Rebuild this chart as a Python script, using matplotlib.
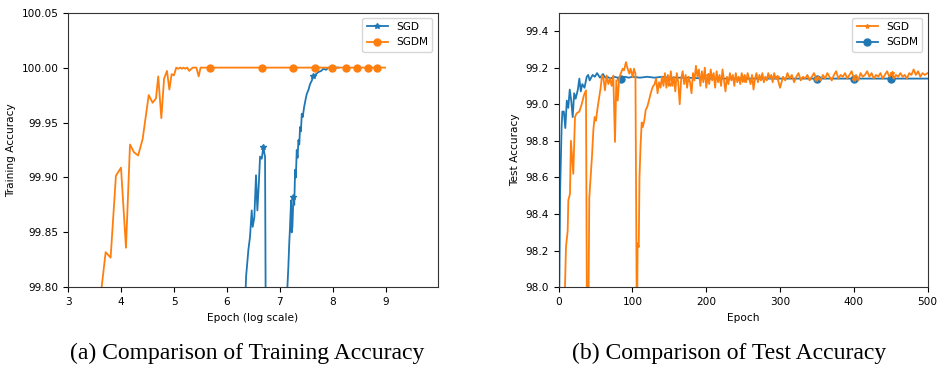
import matplotlib
matplotlib.use("Agg")
import matplotlib.pyplot as plt

# ---- (a) training accuracy, x is log(epoch) ----
sgd_train_x = [6.353, 6.36, 6.403, 6.434, 6.466, 6.485, 6.516, 6.547, 6.573, 6.598,
               6.624, 6.655, 6.687, 6.705, 6.718, 6.737,
               7.14, 7.159, 7.175, 7.19, 7.21, 7.222, 7.235, 7.254, 7.27, 7.286,
               7.30, 7.317, 7.333, 7.349, 7.365, 7.38, 7.396, 7.412, 7.43, 7.456,
               7.48, 7.506, 7.54, 7.569, 7.60, 7.632, 7.68, 7.727, 7.78, 7.821,
               7.87, 7.916, 8.0, 8.105]
sgd_train_y = [99.80, 99.81, 99.834, 99.846, 99.870, 99.855, 99.864, 99.902, 99.870, 99.892,
               99.919, 99.917, 99.928, 99.922, 99.919, 99.70,
               99.80, 99.819, 99.840, 99.855, 99.879, 99.850, 99.855, 99.882, 99.875, 99.907,
               99.900, 99.925, 99.918, 99.934, 99.930, 99.946, 99.942, 99.958, 99.955, 99.964,
               99.970, 99.976, 99.980, 99.985, 99.988, 99.992, 99.994, 99.996, 99.997, 99.999,
               99.998, 100.0, 100.0, 100.0]
sgd_train_mark_x = [6.687, 7.254, 7.632]

sgdm_train_x = [3.55, 3.63, 3.706, 3.80, 3.90, 3.996, 4.09, 4.166, 4.24, 4.32,
                4.405, 4.52, 4.594, 4.657, 4.70, 4.758, 4.81, 4.865, 4.91, 4.953,
                4.997, 5.04, 5.078, 5.115, 5.147, 5.178, 5.21, 5.248, 5.286, 5.35,
                5.42, 5.464, 5.50, 5.678, 6.661, 7.253, 7.662, 7.984, 8.249, 8.457,
                8.658, 8.829, 8.986]
sgdm_train_y = [99.77, 99.80, 99.832, 99.827, 99.9015, 99.909, 99.836, 99.930, 99.923, 99.920,
                99.935, 99.975, 99.968, 99.972, 99.992, 99.954, 99.990, 99.997, 99.980, 99.994,
                99.993, 100.0, 99.999, 100.0, 99.999, 100.0, 99.999, 100.0, 99.997, 100.0,
                100.0, 99.992, 100.0, 100.0, 100.0, 100.0, 100.0, 100.0, 100.0, 100.0,
                100.0, 100.0, 100.0]
sgdm_train_mark_x = [5.678, 6.661, 7.253, 7.662, 7.984, 8.249, 8.457, 8.658, 8.829]

# ---- (b) test accuracy per epoch ----
sgd_test_epoch = [1, 7, 9.9, 12.2, 13.1, 15.3, 16.6, 18.9, 19.8, 22.1,
                  24.3, 28, 31.2, 34.3, 37, 38.5, 40, 41.5, 43.3, 45.2,
                  47, 48.8, 50.5, 52.4, 54.2, 56.9, 58.7, 60.5, 62.7, 65,
                  67.3, 69.5, 71.8, 74, 76.3, 78.1, 80, 82.2, 84, 86.7,
                  88.5, 91.2, 93, 95.7, 97.5, 100.2, 102, 104, 106, 107,
                  108.5, 109.5, 111, 112.5, 114, 116, 118, 120, 122.3, 124.6,
                  127.3,
                  130, 132, 134, 136, 138, 140, 142, 144, 146, 148,
                  150, 152, 154, 156, 158, 160, 162, 164, 166, 168,
                  170, 172, 174, 176, 178, 180, 182, 184, 186, 188,
                  190, 192, 194, 196, 198, 200, 202, 204, 206, 208,
                  210, 212, 214, 216, 218, 220, 222, 224, 226, 228,
                  230, 232, 234, 236, 238, 240, 242, 244, 246, 248,
                  250, 252, 254, 256, 258, 260, 262, 264, 266, 268,
                  270, 272, 274, 276, 278, 280, 282, 284, 286, 288,
                  290, 292, 294, 296, 298, 300,
                  304, 307,
                  310, 313, 316, 319, 322, 325, 328, 331, 334, 337,
                  340, 343, 346, 349, 352, 355, 358, 361, 364, 367,
                  370, 373, 376, 379, 382, 385, 388, 391, 394, 397,
                  400, 403, 406, 409, 412, 415, 418, 421, 424, 427,
                  430, 433, 436, 439, 442, 445, 448, 451, 454, 457,
                  460, 463, 466, 469, 472, 475, 478, 481, 484, 487,
                  490, 493, 496, 500]
sgd_test_acc = [97.3, 97.75, 98.22, 98.31, 98.476, 98.51, 98.80, 98.676, 98.62, 98.93,
                98.95, 98.96, 99.0, 99.05, 99.076, 97.6, 97.7, 98.49, 98.6, 98.72,
                98.86, 98.93, 98.91, 98.97, 99.02, 99.09, 99.157, 99.148, 99.076, 99.157,
                99.11, 99.14, 99.10, 99.157, 98.794, 99.13, 99.02, 99.148, 99.167, 99.194,
                99.185, 99.23, 99.20, 99.167, 99.194, 99.148, 99.194, 99.167, 97.7, 98.24,
                98.22, 98.6, 98.78, 98.9, 98.875, 98.91, 98.97, 98.985, 99.02, 99.058,
                99.094,
                99.11, 99.14, 99.06, 99.12, 99.09, 99.15, 99.10, 99.17, 99.09, 99.16,
                99.11, 99.18, 99.10, 99.15, 99.07, 99.17, 99.12, 99.00, 99.14, 99.18,
                99.11, 99.16, 99.09, 99.15, 99.12, 99.06, 99.17, 99.13, 99.21, 99.15,
                99.19, 99.10, 99.18, 99.12, 99.20, 99.09, 99.16, 99.11, 99.19, 99.13,
                99.17, 99.09, 99.18, 99.12, 99.16, 99.10, 99.19, 99.13, 99.07, 99.15,
                99.11, 99.17, 99.13, 99.16, 99.10, 99.17, 99.12, 99.15, 99.11, 99.17,
                99.13, 99.16, 99.12, 99.17, 99.14, 99.11, 99.16, 99.08, 99.14, 99.17,
                99.12, 99.16, 99.13, 99.17, 99.12, 99.15, 99.13, 99.17, 99.14, 99.16,
                99.12, 99.17, 99.14, 99.15, 99.12, 99.09,
                99.15, 99.13,
                99.17, 99.14, 99.16, 99.12, 99.15, 99.17, 99.13, 99.15, 99.14, 99.16,
                99.13, 99.15, 99.17, 99.14, 99.15, 99.13, 99.16, 99.14, 99.17, 99.15,
                99.13, 99.16, 99.18, 99.14, 99.16, 99.15, 99.17, 99.14, 99.16, 99.18,
                99.14, 99.16, 99.13, 99.17, 99.15, 99.16, 99.18, 99.15, 99.17, 99.14,
                99.16, 99.15, 99.17, 99.14, 99.16, 99.18, 99.15, 99.17, 99.14, 99.16,
                99.15, 99.17, 99.15, 99.16, 99.14, 99.17, 99.16, 99.19, 99.16, 99.18,
                99.15, 99.17, 99.16, 99.17]
sgd_test_mark_epoch = [150, 202, 250, 296, 349, 400, 451]

sgdm_test_epoch = [0, 2, 4, 5, 7, 9, 11, 13, 15, 17,
                   19, 21, 23, 26, 28, 30, 32, 35, 38, 40,
                   42, 46, 49, 52, 56, 60, 63, 66, 70, 75,
                   80, 84, 90, 95, 100, 110, 120, 130, 140, 150,
                   175, 200, 250, 300, 350, 400, 450, 500]
sgdm_test_acc = [97.6, 98.53, 98.88, 98.96, 98.96, 98.87, 99.02, 98.98, 99.08, 99.02,
                 98.93, 99.06, 99.03, 99.08, 99.14, 99.07, 99.11, 99.09, 99.15, 99.16,
                 99.13, 99.16, 99.15, 99.17, 99.145, 99.165, 99.145, 99.15, 99.14, 99.15,
                 99.145, 99.14, 99.15, 99.145, 99.15, 99.145, 99.15, 99.145, 99.15, 99.145,
                 99.145, 99.14, 99.14, 99.14, 99.14, 99.14, 99.14, 99.14]
sgdm_test_mark_epoch = [84, 350, 400, 450]


def idx(xs, picks):
    return [xs.index(p) for p in picks]


plt.rcParams['font.size'] = 7.6
plt.rcParams['axes.edgecolor'] = '#333333'

fig = plt.figure(figsize=(9.38, 3.71), dpi=100)
ax1 = fig.add_axes([0.0728, 0.2256, 0.3938, 0.7402])
ax2 = fig.add_axes([0.5956, 0.2256, 0.3934, 0.7402])

ax1.plot(sgd_train_x, sgd_train_y, color='C0', lw=1.3, marker='*', ms=4,
         markevery=idx(sgd_train_x, sgd_train_mark_x), label='SGD')
ax1.plot(sgdm_train_x, sgdm_train_y, color='C1', lw=1.3, marker='o', ms=5,
         markevery=idx(sgdm_train_x, sgdm_train_mark_x), label='SGDM')
ax1.set_xlim(3, 9.98)
ax1.set_ylim(99.80, 100.05)
ax1.set_xticks(range(3, 10))
ax1.set_yticks([99.80, 99.85, 99.90, 99.95, 100.00, 100.05])
ax1.yaxis.set_major_formatter(matplotlib.ticker.FormatStrFormatter('%.2f'))
ax1.set_xlabel('Epoch (log scale)')
ax1.set_ylabel('Training Accuracy')
ax1.legend(loc='upper right')

l_sgdm, = ax2.plot(sgdm_test_epoch, sgdm_test_acc, color='C0', lw=1.3, marker='o', ms=5,
                   markevery=idx(sgdm_test_epoch, sgdm_test_mark_epoch), label='SGDM')
l_sgd, = ax2.plot(sgd_test_epoch, sgd_test_acc, color='C1', lw=1.3, marker='*', ms=3,
                  markevery=idx(sgd_test_epoch, sgd_test_mark_epoch), label='SGD')
ax2.set_xlim(0, 500)
ax2.set_ylim(98.0, 99.5)
ax2.set_yticks([98.0, 98.2, 98.4, 98.6, 98.8, 99.0, 99.2, 99.4])
ax2.yaxis.set_major_formatter(matplotlib.ticker.FormatStrFormatter('%.1f'))
ax2.set_xlabel('Epoch')
ax2.set_ylabel('Test Accuracy')
ax2.legend(handles=[l_sgd, l_sgdm], loc='upper right')

fig.text(0.2633, 0.0485, '(a) Comparison of Training Accuracy', ha='center', va='center',
         family='Liberation Serif', fontsize=17)
fig.text(0.7772, 0.0485, '(b) Comparison of Test Accuracy', ha='center', va='center',
         family='Liberation Serif', fontsize=17)

fig.savefig('out.png', dpi=100)
